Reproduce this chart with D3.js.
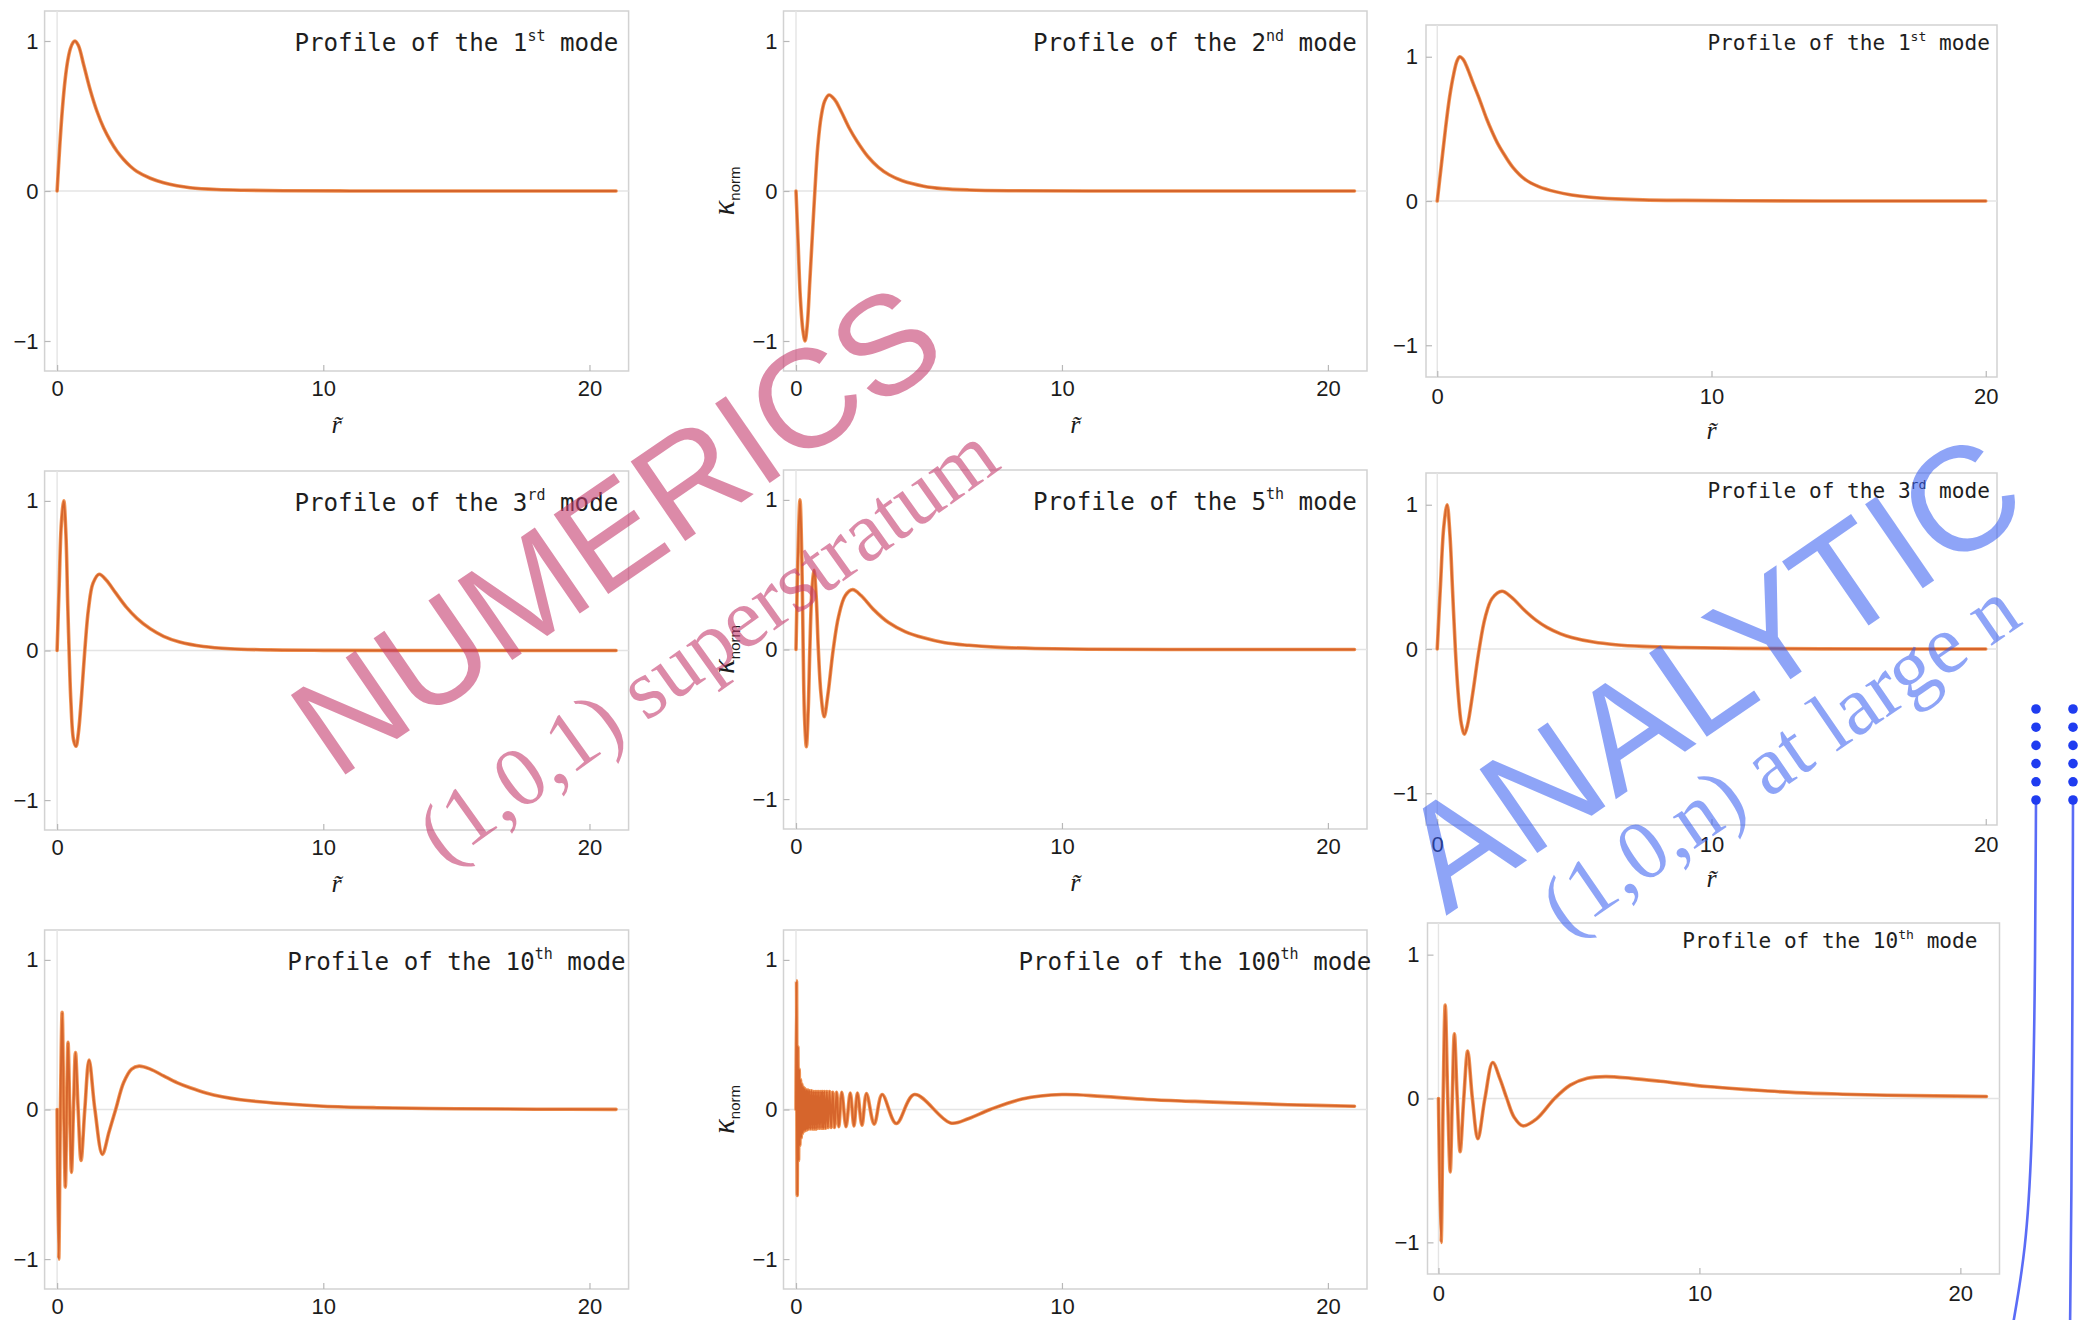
<!DOCTYPE html>
<html>
<head>
<meta charset="utf-8">
<script src="https://cdn.jsdelivr.net/npm/d3@7"></script>
<style>
  html, body { margin: 0; padding: 0; background: #ffffff; }
  svg { display: block; }
</style>
</head>
<body>
<svg id="fig" width="2098" height="1320"></svg>
<script>
// Radial profiles of the normalised modes, as [r, kappa_norm] pairs.
const mode1Numeric = [[0,0],[0.1,0.3],[0.2,0.55],[0.3,0.74],[0.4,0.87],[0.5,0.95],[0.6,0.99],[0.67,1.0],[0.8,0.97],[1.0,0.84],[1.25,0.67],[1.5,0.53],[1.75,0.42],[2.0,0.335],[2.25,0.265],[2.5,0.21],[2.75,0.165],[3.0,0.13],[3.5,0.085],[4.0,0.055],[4.5,0.035],[5.0,0.022],[6.0,0.01],[7.0,0.005],[8.5,0.002],[11,0.0005],[14,0],[21,0]];

const mode2Numeric = [[0,0],[0.08,-0.35],[0.16,-0.7],[0.26,-0.93],[0.34,-1.0],[0.42,-0.9],[0.52,-0.6],[0.62,-0.28],[0.71,0],[0.82,0.3],[0.95,0.5],[1.08,0.6],[1.24,0.64],[1.45,0.61],[1.7,0.53],[2.0,0.42],[2.3,0.33],[2.7,0.23],[3.1,0.158],[3.5,0.108],[4.0,0.068],[4.8,0.032],[5.5,0.016],[6.5,0.007],[8,0.002],[11,0],[21,0]];

const mode1Analytic = [[0,0],[0.15,0.25],[0.3,0.5],[0.45,0.72],[0.6,0.88],[0.72,0.97],[0.82,1.0],[0.95,0.98],[1.1,0.92],[1.3,0.82],[1.55,0.7],[1.8,0.57],[2.0,0.48],[2.2,0.4],[2.4,0.335],[2.75,0.235],[3.2,0.15],[3.7,0.1],[4.3,0.065],[4.9,0.042],[5.5,0.028],[6.5,0.015],[7.5,0.008],[9,0.004],[11,0.0015],[14,0.0005],[20,0]];

const mode3Numeric = [[0,0],[0.08,0.45],[0.16,0.85],[0.25,1.0],[0.33,0.78],[0.4,0.3],[0.45,0],[0.52,-0.35],[0.62,-0.6],[0.71,-0.64],[0.8,-0.55],[0.92,-0.3],[1.04,0],[1.18,0.28],[1.35,0.45],[1.58,0.51],[1.85,0.47],[2.2,0.385],[2.6,0.29],[3.0,0.215],[3.5,0.145],[4.0,0.095],[4.6,0.057],[5.5,0.027],[6.5,0.012],[8,0.004],[10,0.001],[13,0],[21,0]];

const mode5Numeric = [[0,0],[0.07,0.6],[0.15,1.0],[0.22,0.6],[0.27,0],[0.32,-0.45],[0.39,-0.65],[0.46,-0.4],[0.52,0],[0.6,0.4],[0.68,0.53],[0.76,0.35],[0.84,0],[0.94,-0.3],[1.06,-0.45],[1.2,-0.3],[1.4,0],[1.6,0.22],[1.85,0.36],[2.13,0.4],[2.45,0.36],[2.9,0.27],[3.48,0.18],[4.1,0.12],[4.8,0.078],[5.6,0.045],[6.5,0.028],[7.5,0.016],[9,0.007],[11,0.002],[14,0],[21,0]];

const mode3Analytic = [[0,0],[0.12,0.45],[0.24,0.85],[0.36,1.0],[0.46,0.8],[0.56,0.4],[0.66,0],[0.76,-0.3],[0.88,-0.52],[0.99,-0.59],[1.1,-0.53],[1.3,-0.3],[1.53,0],[1.75,0.22],[2.0,0.35],[2.36,0.4],[2.7,0.36],[3.2,0.265],[3.6,0.2],[4.0,0.15],[4.5,0.105],[4.9,0.08],[5.7,0.048],[6.5,0.03],[7.5,0.018],[9,0.01],[11,0.004],[14,0.001],[20,0]];

const mode10Numeric = [[0,0],[0.06,-1.0],[0.125,0],[0.19,0.65],[0.25,0],[0.31,-0.52],[0.36,0],[0.41,0.45],[0.475,0],[0.54,-0.42],[0.615,0],[0.69,0.38],[0.79,0],[0.9,-0.34],[1.04,0],[1.2,0.33],[1.42,0],[1.7,-0.3],[1.95,-0.15],[2.2,0],[2.5,0.18],[2.8,0.27],[3.08,0.29],[3.5,0.27],[4.0,0.225],[4.5,0.18],[5.0,0.145],[5.6,0.11],[6.2,0.085],[6.9,0.065],[8.4,0.04],[10,0.022],[12,0.012],[15,0.005],[18,0.002],[21,0.001]];

const mode100Numeric = [[0,0],[0.02,0.86],[0.045,-0.575],[0.07,0.42],[0.095,-0.34],[0.12,0.27],[0.145,-0.24],[0.17,0.2],[0.195,-0.19],[0.22,0.17],[0.245,-0.16],[0.27,0.15],[0.3,-0.145],[0.33,0.14],[0.36,-0.14],[0.39,0.13],[0.42,-0.135],[0.45,0.13],[0.48,-0.13],[0.51,0.125],[0.545,-0.13],[0.58,0.125],[0.615,-0.13],[0.65,0.12],[0.685,-0.13],[0.72,0.12],[0.755,-0.13],[0.79,0.12],[0.825,-0.125],[0.86,0.12],[0.9,-0.125],[0.94,0.12],[0.98,-0.125],[1.0,0.12],[1.035,-0.125],[1.07,0.12],[1.11,-0.125],[1.16,0.12],[1.2,-0.12],[1.26,0.12],[1.32,-0.12],[1.38,0.115],[1.45,-0.12],[1.53,0.115],[1.61,-0.115],[1.72,0.115],[1.88,-0.115],[2.04,0.11],[2.18,-0.11],[2.31,0.11],[2.48,-0.105],[2.65,0.107],[2.94,-0.098],[3.24,0.1],[3.77,-0.094],[4.45,0.1],[5.81,-0.09],[6.5,-0.06],[7.3,0],[8.5,0.07],[10,0.1],[11.5,0.088],[13.2,0.067],[15,0.054],[16.5,0.044],[18.5,0.032],[21,0.022]];

const mode10Analytic = [[0,0],[0.1,-1.0],[0.18,0],[0.26,0.65],[0.355,0],[0.45,-0.51],[0.53,0],[0.61,0.45],[0.72,0],[0.83,-0.37],[0.97,0],[1.12,0.33],[1.3,0],[1.51,-0.28],[1.78,0],[2.08,0.25],[2.35,0.14],[2.62,0],[2.9,-0.13],[3.23,-0.19],[3.77,-0.14],[4.45,0],[5.05,0.093],[5.7,0.14],[6.4,0.152],[7.4,0.14],[8.5,0.12],[10.3,0.083],[12,0.06],[13.7,0.041],[15.5,0.03],[17.2,0.023],[19,0.018],[21,0.014]];

const xTicks = [0, 10, 20];
const yTicks = [-1, 0, 1];
const modeNumbers = ["1", "2", "1", "3", "5", "3", "10", "100", "10"];
const modeSuffixes = ["st", "nd", "st", "rd", "th", "rd", "th", "th", "th"];
const dotLevels = [0, 1, 2, 3, 4, 5];
const dotColumns = [0, 1];

// Panel grid: numerical results in the first two columns, large-n formula in the third.
const leftStyle  = { titleSize: 24.2, titleY: 0.935, xPad: 9.5, yPad: 6 };
const rightStyle = { titleSize: 21.1, titleY: 1.045, xPad: 11.5, yPad: 8 };
const dNum = [-0.47, 21.47], dAna = [-0.41, 20.41], dAna10 = [-0.42, 21.5];
const yNum = [-1.2, 1.2], yAna = [-1.22, 1.22];

const panels = [
  { data: mode1Numeric,   box: [44.6, 628.6, 11, 371],    xd: dNum,   yd: yNum, s: leftStyle,  kappa: false, rlabel: true },
  { data: mode2Numeric,   box: [783.5, 1367, 11, 371],    xd: dNum,   yd: yNum, s: leftStyle,  kappa: true,  rlabel: true },
  { data: mode1Analytic,  box: [1426, 1997, 25, 377],     xd: dAna,   yd: yAna, s: rightStyle, kappa: false, rlabel: true },
  { data: mode3Numeric,   box: [44.6, 628.6, 471, 830],   xd: dNum,   yd: yNum, s: leftStyle,  kappa: false, rlabel: true },
  { data: mode5Numeric,   box: [783.5, 1367, 470, 829],   xd: dNum,   yd: yNum, s: leftStyle,  kappa: true,  rlabel: true },
  { data: mode3Analytic,  box: [1426, 1997, 473, 825],    xd: dAna,   yd: yAna, s: rightStyle, kappa: false, rlabel: true },
  { data: mode10Numeric,  box: [44.6, 628.6, 930, 1289],  xd: dNum,   yd: yNum, s: leftStyle,  kappa: false, rlabel: false },
  { data: mode100Numeric, box: [783.5, 1367, 930, 1289],  xd: dNum,   yd: yNum, s: leftStyle,  kappa: true,  rlabel: false },
  { data: mode10Analytic, box: [1427.5, 1999.5, 923, 1274], xd: dAna10, yd: yAna, s: rightStyle, kappa: false, rlabel: false }
];

const svg = d3.select("#fig");
const tickFont = '"Liberation Sans", Arial, sans-serif';

panels.forEach((p, i) => {
  const [x0, x1, y0, y1] = p.box;
  const xs = d3.scaleLinear().domain(p.xd).range([x0, x1]);
  const ys = d3.scaleLinear().domain(p.yd).range([y1, y0]);
  const g = svg.append("g").attr("class", "panel");

  // frame
  g.append("rect")
    .attr("x", x0).attr("y", y0)
    .attr("width", x1 - x0).attr("height", y1 - y0)
    .attr("fill", "none").attr("stroke", "#d2d2d2").attr("stroke-width", 1.5);

  // axes through the origin
  g.append("line")
    .attr("x1", xs(0)).attr("x2", xs(0)).attr("y1", y0).attr("y2", y1)
    .attr("stroke", "#e4e4e4").attr("stroke-width", 1.4);
  g.append("line")
    .attr("x1", x0).attr("x2", x1).attr("y1", ys(0)).attr("y2", ys(0))
    .attr("stroke", "#e4e4e4").attr("stroke-width", 1.4);

  // frame ticks and labels
  const ax = g.append("g").attr("transform", `translate(0,${y1})`)
    .call(d3.axisBottom(xs).tickValues(xTicks).tickFormat(d3.format("d"))
      .tickSizeInner(-6).tickSizeOuter(0).tickPadding(p.s.xPad));
  const ay = g.append("g").attr("transform", `translate(${x0},0)`)
    .call(d3.axisLeft(ys).tickValues(yTicks).tickFormat(d3.format("d"))
      .tickSizeInner(-6).tickSizeOuter(0).tickPadding(p.s.yPad));
  [ax, ay].forEach(a => {
    a.select(".domain").remove();
    a.selectAll(".tick line").attr("stroke", "#b8b8b8").attr("stroke-width", 1.2);
    a.selectAll(".tick text")
      .attr("fill", "#1c1c1c")
      .style("font-family", tickFont)
      .style("font-size", "22px");
  });

  // profile curve
  const line = d3.line()
    .x(d => xs(d[0])).y(d => ys(d[1]))
    .curve(d3.curveCatmullRom.alpha(0.5));
  g.append("path").datum(p.data)
    .attr("d", line).attr("fill", "none")
    .attr("stroke", "#f09455").attr("stroke-width", 3.6)
    .attr("stroke-linejoin", "round").attr("stroke-linecap", "round");
  g.append("path").datum(p.data)
    .attr("d", line).attr("fill", "none")
    .attr("stroke", "#d6652c").attr("stroke-width", 1.9)
    .attr("stroke-linejoin", "round").attr("stroke-linecap", "round");

  // panel title
  const fs = p.s.titleSize;
  const t = g.append("text")
    .attr("x", xs(15)).attr("y", ys(p.s.titleY))
    .attr("text-anchor", "middle")
    .attr("fill", "#1e1e1e")
    .style("font-family", '"DejaVu Sans Mono", "Liberation Mono", monospace')
    .style("font-size", fs + "px")
    .style("white-space", "pre");
  t.append("tspan").text("Profile of the " + modeNumbers[i]);
  t.append("tspan").attr("dy", -0.42 * fs).style("font-size", (0.62 * fs) + "px").text(modeSuffixes[i]);
  t.append("tspan").attr("dy", 0.42 * fs).text(" mode");

  // axis labels
  if (p.rlabel) {
    g.append("text")
      .attr("x", (x0 + x1) / 2).attr("y", y1 + 62)
      .attr("text-anchor", "middle")
      .attr("fill", "#1c1c1c")
      .style("font-family", '"Liberation Serif", "Times New Roman", serif')
      .style("font-style", "italic")
      .style("font-size", "26px")
      .text("r\u0303");
  }
  if (p.kappa) {
    const k = g.append("text")
      .attr("transform", `translate(${x0 - 50},${ys(0)}) rotate(-90)`)
      .attr("text-anchor", "middle")
      .attr("fill", "#1c1c1c")
      .style("font-family", '"Liberation Serif", "Times New Roman", serif');
    k.append("tspan").style("font-style", "italic").style("font-size", "31px").text("κ");
    k.append("tspan").attr("dy", 6).style("font-size", "15px")
      .style("font-family", tickFont).text("norm");
  }
});

// blue strands on the right edge: dotted tops and descending lines
const dotX = d3.scaleLinear().domain([0, 1]).range([2036, 2073]);
const dotY = d3.scaleLinear().domain([0, 5]).range([709, 800]);
const strands = svg.append("g");
const strandPath = d3.line().curve(d3.curveBasis);
dotColumns.forEach(c => {
  const top = [dotX(c), dotY(5)];
  const pts = c === 0
    ? [top, [dotX(c) - 1, 1000], [dotX(c) - 4, 1150], [dotX(c) - 10, 1250], [dotX(c) - 24, 1330]]
    : [top, [dotX(c) - 0.5, 1000], [dotX(c) - 1.5, 1200], [dotX(c) - 3, 1330]];
  strands.append("path").attr("d", strandPath(pts))
    .attr("fill", "none").attr("stroke", "#5a6cf6").attr("stroke-width", 2.6);
});
strands.selectAll("circle")
  .data(d3.cross(dotColumns, dotLevels))
  .join("circle")
  .attr("cx", d => dotX(d[0])).attr("cy", d => dotY(d[1]))
  .attr("r", 4.8).attr("fill", "#1f3cf0");

// stamped captions over the grid
const stamp = (txt, x, y, angle, size, family, color, op) =>
  svg.append("text")
    .attr("transform", `translate(${x},${y}) rotate(${angle})`)
    .attr("fill", color).attr("fill-opacity", op)
    .style("font-family", family).style("font-size", size + "px")
    .text(txt);

const sans = '"Liberation Sans", Arial, sans-serif';
const serif = '"Liberation Serif", "Times New Roman", serif';
stamp("NUMERICS", 336, 781, -34.5, 140, sans, "rgb(196,60,110)", 0.6);
stamp("(1,0,1) superstratum", 444, 866, -35.5, 85, serif, "rgb(196,60,110)", 0.6);
stamp("ANALYTIC", 1446, 916, -34.5, 148, sans, "rgb(50,90,240)", 0.55);
stamp("(1,0,n) at large n", 1566, 937, -34.4, 84, serif, "rgb(50,90,240)", 0.55);
</script>
</body>
</html>
